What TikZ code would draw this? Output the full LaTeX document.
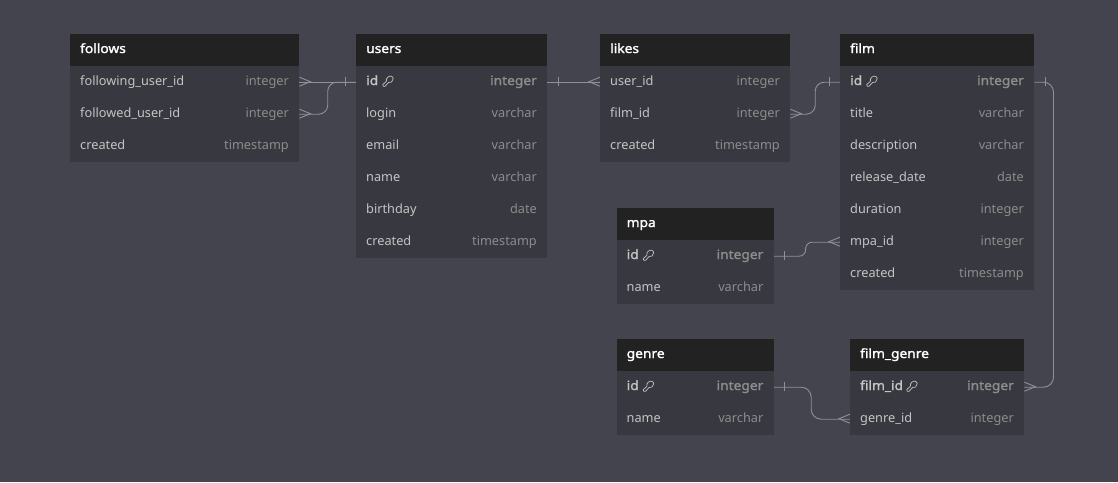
\documentclass[tikz,border=0pt]{standalone}
\usepackage{fontspec}
\usetikzlibrary{calc}
\setmainfont{Noto Sans}
\newfontfamily\nbold{Noto Sans}[FakeBold=1.6,FakeStretch=1.08]
\definecolor{bgc}{HTML}{44444E}
\definecolor{headc}{HTML}{222222}
\definecolor{bodyc}{HTML}{383840}
\definecolor{rowtxt}{HTML}{C4C4C4}
\definecolor{typetxt}{HTML}{8C8C8C}
\definecolor{linec}{HTML}{90909A}
\newcommand{\tfont}{\fontsize{12.75}{13}\selectfont}
\newcommand{\bfont}{\nbold\fontsize{12.75}{13}\selectfont}
\tikzset{
  x=1pt,y=-1pt,
  headbox/.style={anchor=north west,fill=headc,inner sep=0pt,text=white,font=\bfont},
  rowbox/.style={anchor=north west,fill=bodyc,inner sep=0pt,minimum height=32pt},
  rowname/.style={anchor=base west,inner sep=0pt,text=rowtxt,font=\tfont},
  rowtype/.style={anchor=base east,inner sep=0pt,text=typetxt,font=\tfont},
  link/.style={draw=linec,line width=.9pt,yshift=.5pt},
  endmark/.style={draw=linec,line width=.9pt},
  keyicon/.style={draw=rowtxt,line width=.7pt,line join=round},
}
% \tbl{id}{x}{y}{w}{title}
\newcommand{\tbl}[5]{%
  \node[headbox,minimum width=#4pt,minimum height=32pt] (#1) at (#2,#3) {};
  \node[headbox,anchor=base west,fill=none] (#1-t) at (#2+10,#3+19) {#5};
}
% \rw{id}{x}{y}{w}{name}{type}
\newcommand{\rw}[6]{%
  \node[rowbox,minimum width=#4pt] (#1) at (#2,#3) {};
  \node[rowname] (#1-n) at (#2+10,#3+19) {#5};
  \node[rowtype] (#1-y) at (#2+#4-10,#3+19) {#6};
}
% \krw: bold row with a key icon
\newcommand{\krw}[7]{%
  \node[rowbox,minimum width=#4pt] (#1) at (#2,#3) {};
  \node[rowname,font=\bfont] (#1-n) at (#2+10,#3+19) {#5};
  \node[rowtype,font=\bfont] (#1-y) at (#2+#4-10,#3+19) {#6};
  \begin{scope}[shift={(#2+#7,#3+15)},scale=1.05]
    \draw[keyicon] (-4.6,5.0) -- (-5.0,3.4) -- (-1.6,0.4) .. controls (-2.2,-3.4) and (1.2,-5.0) .. (3.0,-4.6)
      .. controls (5.4,-4.0) and (5.6,-0.4) .. (3.4,1.0) .. controls (2.4,1.6) and (1.4,1.6) .. (0.6,1.4)
      -- (-2.8,5.0) -- cycle;
  \end{scope}
}
% \onetick{node.anchor}{direction}
\newcommand{\onetick}[2]{%
  \draw[endmark] ([shift={(#2*11pt,5pt)}]#1) -- ([shift={(#2*11pt,-4pt)}]#1);
}
% \crow{node.anchor}{direction}
\newcommand{\crow}[2]{%
  \draw[endmark] ([shift={(0pt,5pt)}]#1) -- ([shift={(#2*11pt,.5pt)}]#1) -- ([shift={(0pt,-4pt)}]#1);
}
\begin{document}
\begin{tikzpicture}
\useasboundingbox (0,0) rectangle (1118,482);
\fill[bgc] (0,0) rectangle (1118,482);
% follows
\tbl{follows}{70}{34}{229}{follows}
\rw{f1}{70}{66}{229}{following\_user\_id}{integer}
\rw{f2}{70}{98}{229}{followed\_user\_id}{integer}
\rw{f3}{70}{130}{229}{created}{timestamp}
% users
\tbl{users}{356}{34}{191}{users}
\krw{u1}{356}{66}{191}{id}{integer}{32}
\rw{u2}{356}{98}{191}{login}{varchar}
\rw{u3}{356}{130}{191}{email}{varchar}
\rw{u4}{356}{162}{191}{name}{varchar}
\rw{u5}{356}{194}{191}{birthday}{date}
\rw{u6}{356}{226}{191}{created}{timestamp}
% likes
\tbl{likes}{600}{34}{190}{likes}
\rw{l1}{600}{66}{190}{user\_id}{integer}
\rw{l2}{600}{98}{190}{film\_id}{integer}
\rw{l3}{600}{130}{190}{created}{timestamp}
% film
\tbl{film}{840}{34}{194}{film}
\krw{m1}{840}{66}{194}{id}{integer}{32}
\rw{m2}{840}{98}{194}{title}{varchar}
\rw{m3}{840}{130}{194}{description}{varchar}
\rw{m4}{840}{162}{194}{release\_date}{date}
\rw{m5}{840}{194}{194}{duration}{integer}
\rw{m6}{840}{226}{194}{mpa\_id}{integer}
\rw{m7}{840}{258}{194}{created}{timestamp}
% mpa
\tbl{mpa}{616.5}{208}{157}{mpa}
\krw{p1}{616.5}{240}{157}{id}{integer}{32}
\rw{p2}{616.5}{272}{157}{name}{varchar}
% genre
\tbl{genre}{616.5}{339}{157}{genre}
\krw{g1}{616.5}{371}{157}{id}{integer}{32}
\rw{g2}{616.5}{403}{157}{name}{varchar}
% film_genre
\tbl{fg}{850}{339}{174}{film\_genre}
\krw{h1}{850}{371}{174}{film\_id}{integer}{62}
\rw{h2}{850}{403}{174}{genre\_id}{integer}
% connectors
\draw[link] (f1.east) -- (u1.west);
\draw[link,rounded corners=9pt] (f2.east) -- ($(f2.east)!.5!(u1.west|-f2.east)$) |- (u1.west);
\draw[link] (u1.east) -- (l1.west);
\draw[link,rounded corners=9pt] (l2.east) -- ($(l2.east)!.5!(m1.west|-l2.east)$) |- (m1.west);
\draw[link,rounded corners=6.5pt] (p1.east) -- ($(p1.east)!.48!(m6.west|-p1.east)$) |- (m6.west);
\draw[link,rounded corners=10pt] (g1.east) -- ($(g1.east)!.49!(h2.west|-g1.east)$) |- (h2.west);
\coordinate (rt) at (1053.5,0);
\draw[link,rounded corners=10pt] (m1.east) -- (rt|-m1.east) -- (rt|-h1.east) -- (h1.east);
% line ends
\crow{f1.east}{1}
\crow{f2.east}{1}
\onetick{u1.west}{-1}
\onetick{u1.east}{1}
\crow{l1.west}{-1}
\crow{l2.east}{1}
\onetick{m1.west}{-1}
\onetick{m1.east}{1}
\onetick{p1.east}{1}
\crow{m6.west}{-1}
\onetick{g1.east}{1}
\crow{h2.west}{-1}
\crow{h1.east}{1}
\end{tikzpicture}
\end{document}
